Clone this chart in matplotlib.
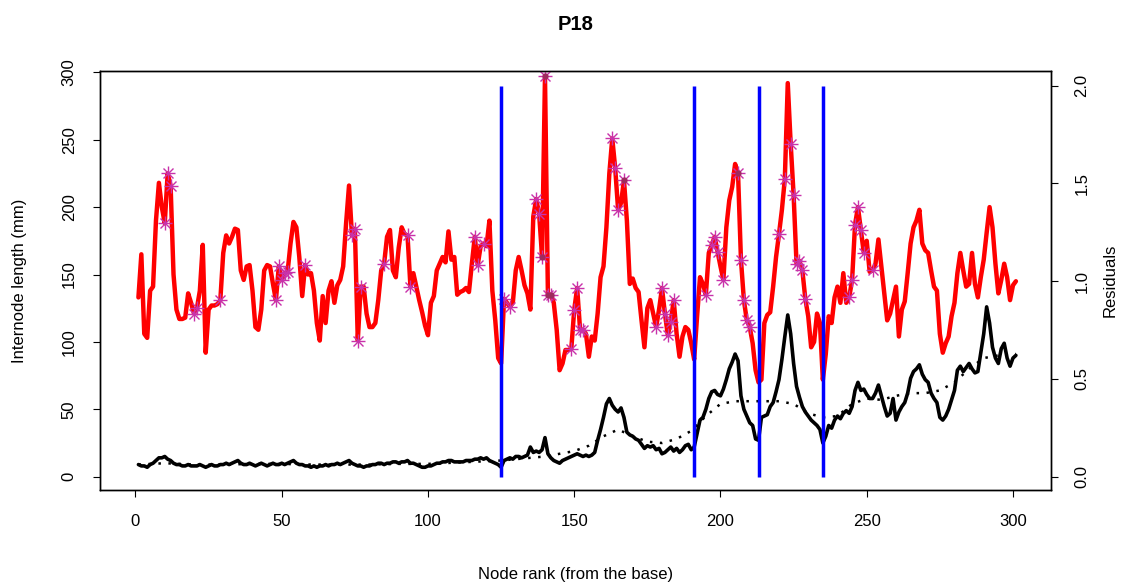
import numpy as np
import matplotlib
matplotlib.use("Agg")
import matplotlib.pyplot as plt

plt.rcParams['font.family'] = ['Liberation Sans', 'DejaVu Sans']

# --- dati ---
nodes = np.arange(1, 302)

# linea rossa (mm), nodi 1..301
red_mm = [
    133, 165, 106, 103, 138, 141, 190, 218, 200, 188,
    225, 216, 150, 124, 117, 117, 118, 136, 129, 121,
    125, 138, 172, 92, 124, 127, 127, 128, 131, 166,
    179, 173, 178, 184, 183, 153, 146, 156, 157, 138,
    111, 109, 124, 153, 157, 156, 143, 131, 156, 146,
    151, 152, 173, 189, 185, 163, 134, 157, 150, 151,
    138, 114, 101, 134, 114, 138, 145, 129, 142, 146,
    156, 188, 216, 179, 184, 101, 141, 141, 121, 111,
    111, 114, 131, 153, 158, 178, 183, 153, 148, 170,
    185, 180, 179, 141, 151, 141, 131, 122, 112, 105,
    129, 134, 153, 158, 163, 159, 182, 161, 163, 135,
    137, 138, 140, 137, 158, 178, 157, 171, 173, 171,
    190, 138, 116, 88, 84, 132, 129, 126, 129, 153,
    163, 153, 142, 136, 124, 193, 206, 195, 163, 297,
    135, 135, 129, 109, 79, 84, 94, 94, 95, 124,
    140, 109, 109, 106, 89, 104, 101, 121, 148, 156,
    185, 225, 251, 229, 198, 203, 220, 190, 143, 147,
    140, 137, 116, 96, 125, 131, 121, 111, 124, 140,
    121, 105, 115, 131, 106, 89, 104, 111, 109, 99,
    87, 119, 148, 143, 135, 166, 172, 178, 167, 156,
    146, 185, 205, 215, 232, 225, 161, 131, 116, 111,
    99, 79, 70, 72, 114, 120, 122, 141, 163, 180,
    198, 221, 292, 247, 209, 158, 160, 153, 132, 119,
    96, 100, 121, 114, 72, 91, 119, 114, 133, 141,
    129, 151, 129, 133, 146, 187, 200, 183, 166, 175,
    152, 153, 158, 176, 156, 136, 116, 121, 131, 141,
    104, 124, 130, 151, 173, 185, 190, 198, 173, 168,
    166, 153, 141, 138, 106, 92, 99, 104, 119, 129,
    151, 166, 153, 141, 143, 166, 143, 133, 148, 161,
    181, 200, 185, 158, 136, 146, 158, 148, 131, 142,
    145,
]

# linea nera (mm), nodi 1..301
black_mm = [
    9, 8, 8, 7, 9, 10, 12, 14, 14, 15,
    13, 12, 10, 9, 9, 8, 8, 9, 8, 8,
    8, 9, 8, 7, 8, 9, 8, 8, 9, 9,
    10, 9, 10, 11, 12, 10, 9, 9, 10, 9,
    8, 9, 10, 9, 8, 9, 10, 9, 9, 10,
    9, 10, 11, 12, 10, 9, 9, 8, 8, 7,
    8, 7, 8, 8, 9, 8, 9, 9, 10, 9,
    10, 11, 12, 10, 9, 8, 8, 7, 8, 8,
    9, 9, 10, 10, 9, 10, 10, 11, 11, 10,
    11, 11, 12, 10, 10, 9, 8, 7, 7, 8,
    8, 9, 10, 10, 11, 11, 12, 12, 11, 11,
    11, 11, 12, 12, 12, 13, 13, 14, 13, 14,
    12, 11, 10, 9, 7, 12, 13, 14, 13, 15,
    15, 14, 15, 16, 22, 18, 19, 18, 20, 29,
    17, 14, 12, 11, 10, 12, 13, 14, 15, 16,
    17, 16, 15, 16, 15, 16, 18, 27, 35, 44,
    54, 58, 53, 50, 48, 51, 44, 33, 31, 30,
    28, 27, 24, 21, 23, 22, 23, 20, 21, 17,
    18, 20, 22, 19, 21, 18, 20, 23, 24, 20,
    22, 32, 42, 44, 50, 58, 63, 64, 61, 60,
    65, 72, 80, 85, 91, 86, 60, 50, 45, 40,
    38, 28, 27, 44, 45, 46, 52, 55, 63, 72,
    87, 104, 120, 106, 84, 67, 59, 52, 48, 45,
    42, 40, 38, 35, 25, 30, 38, 36, 42, 45,
    43, 47, 49, 47, 52, 64, 70, 64, 65, 61,
    58, 58, 62, 68, 60, 52, 45, 47, 58, 42,
    48, 52, 55, 62, 73, 78, 80, 83, 76, 72,
    70, 62, 58, 55, 44, 42, 45, 50, 57, 64,
    79, 82, 78, 81, 84, 80, 77, 78, 92, 106,
    126, 114, 96, 88, 84, 95, 99, 88, 82, 88,
    90,
]

# curva tratteggiata (lisciata), campionata ogni ~5 nodi
smooth_x = [1, 10, 20, 30, 40, 50, 60, 70, 80, 90,
            100, 110, 120, 125, 130, 135, 140, 145, 150, 155,
            160, 165, 170, 175, 180, 185, 190, 195, 200, 205,
            210, 215, 220, 225, 230, 235, 240, 245, 250, 255,
            260, 265, 270, 275, 280, 285, 290, 295, 301]
smooth_mm = [9, 10, 9, 9, 9.5, 9.5, 9, 9, 9, 9.5,
             9.5, 10.5, 11.5, 12, 13, 14, 15, 17, 19, 23,
             30, 35, 30, 26, 25, 28, 34, 45, 54, 56,
             56, 56, 56, 54, 47, 44, 45, 54, 58, 57,
             60, 62, 62, 64, 70, 80, 88, 90, 91]

# nodi marcati con asterisco
star_nodes = [10, 11, 12, 20, 21, 29, 48, 49, 50, 51, 52, 58, 74, 75, 76, 77,
              85, 93, 94, 116, 117, 119, 126, 128, 137, 138, 139, 140, 141, 142,
              149, 150, 151, 152, 153, 163, 164, 165, 167, 178, 180, 181, 182,
              183, 184, 195, 197, 198, 199, 201, 206, 207, 208, 209, 210, 220,
              222, 224, 225, 226, 227, 228, 229, 244, 245, 246, 247, 248, 249, 252]
dark_nodes = [139, 140, 141, 142, 167, 206]

# punti di rottura (linee blu)
breaks = [125, 191, 213, 235]

x_ticks = [0, 50, 100, 150, 200, 250, 300]
left_ticks = [0, 50, 100, 150, 200, 250, 300]
right_ticks = [0.0, 0.5, 1.0, 1.5, 2.0]

#================================
red_mm = np.array(red_mm, dtype=float)
black_mm = np.array(black_mm, dtype=float)
assert len(red_mm) == len(nodes) and len(black_mm) == len(nodes)

W, H = 1124, 588
box_l, box_r, box_t, box_b = 100.4, 1051.0, 70.7, 490.0
fig = plt.figure(figsize=(W / 100, H / 100), dpi=100)
ax = fig.add_axes([box_l / W, 1 - box_b / H, (box_r - box_l) / W, (box_b - box_t) / H])

ax.plot(nodes, red_mm, color='#FF0000', lw=3.2, solid_joinstyle='round',
        solid_capstyle='round', zorder=2)

idx = np.array(star_nodes) - 1
star_col = '#C832AA'
ax.plot(nodes[idx], red_mm[idx], ls='', marker='+', ms=10, mew=1.0, color=star_col, zorder=3)
ax.plot(nodes[idx], red_mm[idx], ls='', marker='x', ms=7.2, mew=1.0, color=star_col, zorder=3)
didx = np.array(dark_nodes) - 1
ax.plot(nodes[didx], red_mm[didx], ls='', marker='o', ms=4.5, mew=0, color='#9E2A5E', zorder=3)

ax.plot(smooth_x, smooth_mm, color='black', lw=1.8, ls=(0, (1, 3)), zorder=4)
ax.plot(nodes, black_mm, color='black', lw=2.6, solid_joinstyle='round',
        solid_capstyle='round', zorder=5)

ax.set_xlim(-12, 313)
ax.set_ylim(-9.87, 301.2)
ax.set_xticks(x_ticks)
ax.set_yticks(left_ticks)
ax.set_yticklabels([str(v) for v in left_ticks], rotation=90, va='center')
ax.tick_params(direction='out', length=5, width=0.8, labelsize=12, color='black')
ax.tick_params(axis='x', pad=12.5)
ax.tick_params(axis='y', pad=12)

ax2 = ax.twinx()
scale = 145.1
ax2.set_ylim(-9.87 / scale, 301.2 / scale)
ax2.vlines(breaks, 0, 2, colors='#0000FF', lw=2.5, zorder=6)
ax2.set_yticks(right_ticks)
ax2.set_yticklabels(['%.1f' % v for v in right_ticks], rotation=90, va='center')
ax2.tick_params(direction='out', length=5, width=0.8, labelsize=12, pad=12)

for a in (ax, ax2):
    for s in a.spines.values():
        s.set_linewidth(1.0)

ax.set_xlabel('Node rank (from the base)', fontsize=12, va='center')
ax.xaxis.set_label_coords(0.5, (box_b - 574) / (box_b - box_t))
ax.set_ylabel('Internode length (mm)', fontsize=12, va='center')
ax.yaxis.set_label_coords((20 - box_l) / (box_r - box_l), 0.5)
ax2.set_ylabel('Residuals', fontsize=12, va='center', rotation=90)
ax2.yaxis.set_label_coords((1110 - box_l) / (box_r - box_l), 0.5)

fig.text((box_l + box_r) / 2 / W, 1 - 25 / H, 'P18', ha='center', va='center',
         fontsize=14.5, fontweight='bold')

fig.savefig('out.png', dpi=100)
